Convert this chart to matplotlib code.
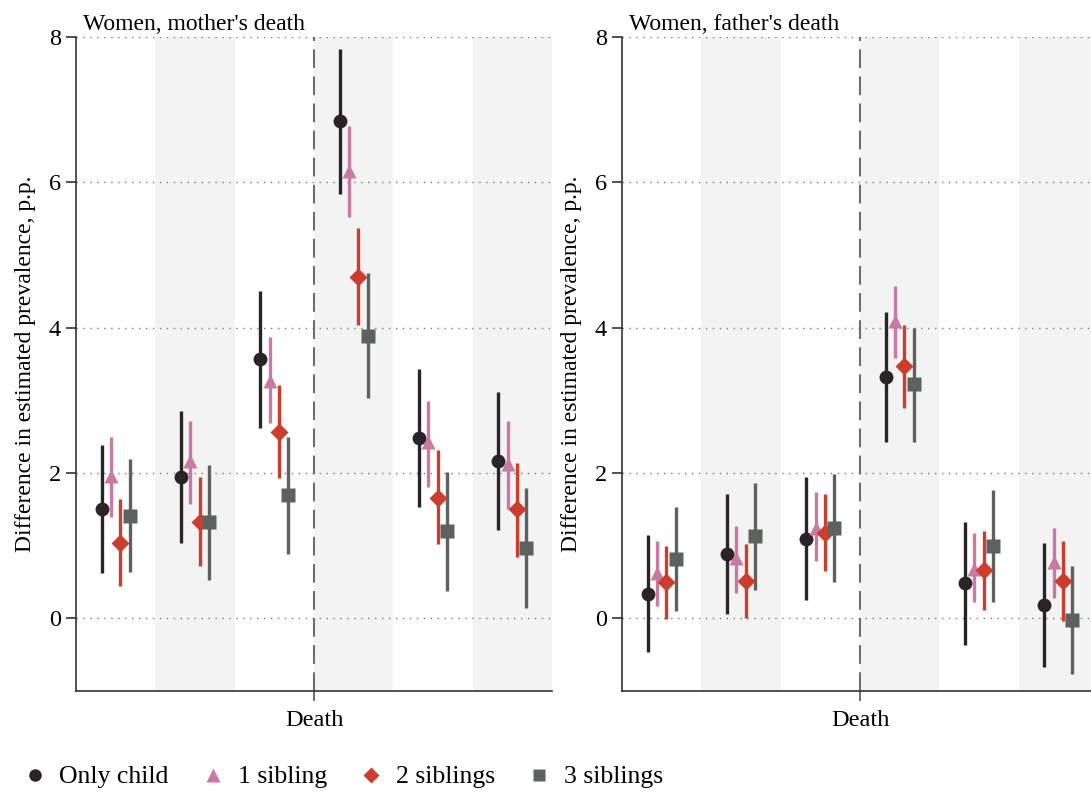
### DEPENDENCIAS
### ------------------

import numpy as np
import matplotlib
matplotlib.use('Agg')
import matplotlib.pyplot as plt
from matplotlib.lines import Line2D

plt.rcParams['font.family'] = ['Liberation Serif', 'DejaVu Serif']

### DATOS
### ------------------

series = ['Only child', '1 sibling', '2 siblings', '3 siblings']
colors = ['#2b2427', '#c87aa2', '#cc3d2e', '#5e625f']
markers = ['o', '^', 'D', 's']
marker_sizes = [10, 10.5, 9.5, 9.5]
titles = ["Women, mother's death", "Women, father's death"]

# Una fila por serie, una columna por periodo (3 antes, 3 despues de la muerte)
mother_est = [[1.51, 1.94, 3.57, 6.84, 2.48, 2.17],
              [1.96, 2.17, 3.27, 6.16, 2.42, 2.12],
              [1.04, 1.33, 2.56, 4.70, 1.66, 1.50],
              [1.41, 1.32, 1.70, 3.88, 1.20, 0.97]]
mother_lo = [[0.63, 1.04, 2.62, 5.84, 1.53, 1.22],
             [1.39, 1.58, 2.69, 5.52, 1.81, 1.51],
             [0.45, 0.72, 1.93, 4.03, 1.02, 0.85],
             [0.64, 0.53, 0.89, 3.03, 0.37, 0.14]]
mother_hi = [[2.39, 2.85, 4.51, 7.84, 3.43, 3.12],
             [2.50, 2.72, 3.87, 6.77, 2.99, 2.71],
             [1.64, 1.94, 3.21, 5.37, 2.32, 2.14],
             [2.19, 2.11, 2.50, 4.75, 2.02, 1.80]]

father_est = [[0.34, 0.89, 1.09, 3.32, 0.48, 0.18],
              [0.63, 0.83, 1.25, 4.09, 0.68, 0.77],
              [0.50, 0.51, 1.18, 3.47, 0.66, 0.51],
              [0.81, 1.13, 1.25, 3.22, 0.99, -0.02]]
father_lo = [[-0.47, 0.06, 0.25, 2.43, -0.37, -0.67],
             [0.17, 0.35, 0.79, 3.58, 0.22, 0.28],
             [-0.01, 0.00, 0.65, 2.90, 0.12, -0.03],
             [0.10, 0.39, 0.50, 2.43, 0.22, -0.77]]
father_hi = [[1.15, 1.71, 1.94, 4.21, 1.33, 1.04],
             [1.07, 1.27, 1.74, 4.58, 1.17, 1.24],
             [1.00, 1.02, 1.71, 4.03, 1.20, 1.06],
             [1.53, 1.86, 1.99, 4.00, 1.76, 0.72]]

yticks = [0, 2, 4, 6, 8]

### METODOS AUXILIARES
### ------------------

def plotPanel(ax, title, est, lo, hi):
    periods = np.arange(len(est[0]))

    # Bandas grises alternadas
    for p in periods:
        if p % 2 == 1:
            ax.axvspan(p - 0.5, p + 0.5, color='#f3f3f3', lw=0, zorder=0)

    for y in yticks:
        ax.axhline(y, color='#7a7a7a', lw=1, ls=(0, (1, 4)), zorder=1)

    # Linea de la muerte
    ax.axvline(2.5, color='#6e6e6e', lw=1.5, ls=(0, (9, 4)), zorder=1)

    offsets = (np.arange(len(series)) - 1.5) * 0.117
    for i in range(len(series)):
        x = periods + offsets[i]
        ax.vlines(x, lo[i], hi[i], color=colors[i], lw=2.4, zorder=2)
        ax.plot(x, est[i], ls='none', marker=markers[i], ms=marker_sizes[i],
                color=colors[i], mec='none', zorder=3)

    ax.set_xlim(-0.5, 5.5)
    ax.set_ylim(-1, 8)
    ax.set_yticks(yticks)
    ax.set_xticks([2.5])
    ax.set_xticklabels(['Death'])
    ax.tick_params(axis='x', length=7, width=1.2, color='#555555', pad=7, labelsize=17.5)
    ax.tick_params(axis='y', length=7, width=1.2, color='#333333', pad=4, labelsize=17.5)
    for side in ['top', 'right']:
        ax.spines[side].set_visible(False)
    for side in ['left', 'bottom']:
        ax.spines[side].set_color('#333333')
        ax.spines[side].set_linewidth(1.2)

    ax.set_ylabel('Difference in estimated prevalence, p.p.', fontsize=17)
    ax.yaxis.set_label_coords(-0.083, 0.5)
    ax.text(0.015, 1.003, title, transform=ax.transAxes, fontsize=17,
            ha='left', va='bottom')


### METODO PRINCIPAL
### ------------------

fig = plt.figure(figsize=(10.91, 7.93), dpi=100)
ax1 = fig.add_axes([76 / 1091, 1 - 691 / 793, 476 / 1091, 654 / 793])
ax2 = fig.add_axes([622 / 1091, 1 - 691 / 793, 476 / 1091, 654 / 793])

plotPanel(ax1, titles[0], mother_est, mother_lo, mother_hi)
plotPanel(ax2, titles[1], father_est, father_lo, father_hi)

handles = [Line2D([], [], ls='none', marker=markers[i], color=colors[i], mec='none',
                  ms=marker_sizes[i] * 0.9) for i in range(len(series))]
fig.legend(handles, series, loc='center left', bbox_to_anchor=(-0.001, 1 - 777 / 793),
           ncol=4, frameon=False, fontsize=18.5, handlelength=1.0, handletextpad=0.45,
           columnspacing=1.23)

fig.savefig('out.png', dpi=100)
